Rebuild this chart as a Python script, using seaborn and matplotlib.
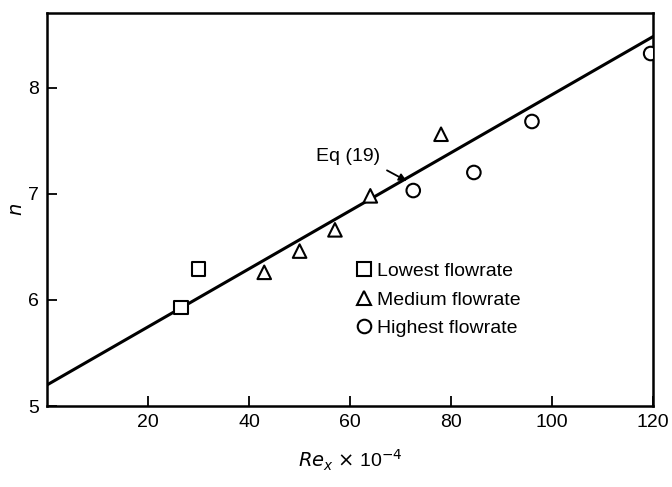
import pandas as pd
import numpy as np
import matplotlib
matplotlib.use("Agg")
import matplotlib.pyplot as plt
import seaborn as sns

# data
low_re = [26.5, 30.0]
low_n = [5.93, 6.29]
med_re = [43.0, 50.0, 57.0, 64.0, 78.0]
med_n = [6.26, 6.46, 6.66, 6.98, 7.56]
high_re = [72.5, 84.5, 96.0, 119.5]
high_n = [7.03, 7.20, 7.68, 8.32]
fit_re = [0, 120]
fit_n = [5.20, 8.48]
groups = ['Lowest flowrate', 'Medium flowrate', 'Highest flowrate']

df = pd.DataFrame({
    're': low_re + med_re + high_re,
    'n': low_n + med_n + high_n,
    'group': [groups[0]] * len(low_re) + [groups[1]] * len(med_re) + [groups[2]] * len(high_re),
})
fit = pd.DataFrame({'re': fit_re, 'n': fit_n})

sns.set_theme(style="ticks")
plt.rcParams['font.family'] = ['Liberation Sans', 'DejaVu Sans']
plt.rcParams['text.color'] = 'black'
plt.rcParams['axes.labelcolor'] = 'black'
plt.rcParams['xtick.color'] = 'black'
plt.rcParams['ytick.color'] = 'black'

fig = plt.figure(figsize=(6.72, 4.87), dpi=100)
ax = fig.add_axes([0.07, 0.166, 0.902, 0.807])

sns.lineplot(data=fit, x='re', y='n', color='black', linewidth=2.2, ax=ax)
sns.scatterplot(data=df, x='re', y='n', style='group', style_order=groups,
                markers={groups[0]: 's', groups[1]: '^', groups[2]: 'o'},
                s=95, facecolor='white', edgecolor='black', linewidth=1.5,
                zorder=3, ax=ax)

handles, labels = ax.get_legend_handles_labels()
ax.legend(handles, labels, loc='upper left', bbox_to_anchor=(0.49, 0.385),
          frameon=False, fontsize=14, handletextpad=0.0, labelspacing=0.55,
          borderaxespad=0, handlelength=1.3)

ax.text(59.5, 7.35, 'Eq (19)', fontsize=14, ha='center', va='center')
ax.annotate('', xy=(71.2, 7.12), xytext=(67.3, 7.22),
            arrowprops=dict(arrowstyle='-|>', color='black', lw=1.3,
                            shrinkA=0, shrinkB=0, mutation_scale=11))

ax.set_xlim(0, 120)
ax.set_ylim(5, 8.7)
ax.set_xticks([20, 40, 60, 80, 100, 120])
ax.set_yticks([5, 6, 7, 8])
ax.tick_params(direction='in', length=7, width=1.3, labelsize=14, pad=6)
for sp in ax.spines.values():
    sp.set_linewidth(1.8)
    sp.set_color('black')
ax.set_xlabel(r'$Re_x$ $\times$ 10$^{-4}$', fontsize=14, labelpad=12)
ax.set_ylabel(r'$n$', fontsize=14, labelpad=1)

plt.savefig('out.png', dpi=100)
plt.close()
